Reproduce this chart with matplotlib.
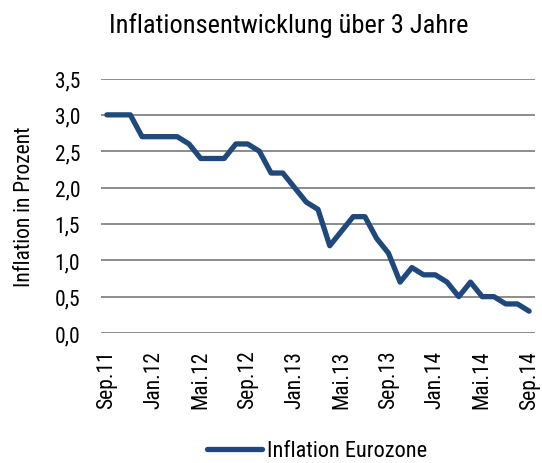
import matplotlib
matplotlib.use('Agg')
import matplotlib.pyplot as plt

plt.rcParams['font.family'] = ['Roboto Condensed', 'Archivo Narrow', 'DejaVu Sans']

# Monthly values Sep.11 .. Sep.14
months = ['Sep.11', 'Okt.11', 'Nov.11', 'Dez.11',
          'Jan.12', 'Feb.12', 'Mrz.12', 'Apr.12', 'Mai.12', 'Jun.12', 'Jul.12', 'Aug.12',
          'Sep.12', 'Okt.12', 'Nov.12', 'Dez.12',
          'Jan.13', 'Feb.13', 'Mrz.13', 'Apr.13', 'Mai.13', 'Jun.13', 'Jul.13', 'Aug.13',
          'Sep.13', 'Okt.13', 'Nov.13', 'Dez.13',
          'Jan.14', 'Feb.14', 'Mrz.14', 'Apr.14', 'Mai.14', 'Jun.14', 'Jul.14', 'Aug.14',
          'Sep.14']
inflation = [3.0, 3.0, 3.0, 2.7,
             2.7, 2.7, 2.7, 2.6, 2.4, 2.4, 2.4, 2.6,
             2.6, 2.5, 2.2, 2.2,
             2.0, 1.8, 1.7, 1.2, 1.4, 1.6, 1.6, 1.3,
             1.1, 0.7, 0.9, 0.8,
             0.8, 0.7, 0.5, 0.7, 0.5, 0.5, 0.4, 0.4,
             0.3]
y_ticks = [0.0, 0.5, 1.0, 1.5, 2.0, 2.5, 3.0, 3.5]

fig = plt.figure(figsize=(5.42, 4.64), dpi=100)
ax = fig.add_axes([101/542, 1 - 334/464, 434/542, 254.5/464])

x = list(range(len(months)))
ax.plot(x, inflation, color='#1F497D', linewidth=3.8, solid_capstyle='round',
        solid_joinstyle='round', label='Inflation Eurozone', zorder=3)

ax.set_xlim(-0.5, len(months) - 0.5)
ax.set_ylim(0, 3.5)
ax.set_yticks(y_ticks)
ax.set_yticklabels([f'{v:.1f}'.replace('.', ',') for v in y_ticks], fontsize=15.5)
tick_pos = x[::4]
ax.set_xticks(tick_pos)
ax.set_xticklabels([months[i] for i in tick_pos], rotation=90, fontsize=15.5)
ax.tick_params(axis='y', length=0, pad=15)
ax.tick_params(axis='x', length=0, pad=12)

ax.yaxis.grid(True, color='#8C8C8C', linewidth=1.4)
ax.set_axisbelow(True)
for s in ax.spines.values():
    s.set_visible(False)

ax.set_ylabel('Inflation in Prozent', fontsize=15.5, labelpad=14)

fig.text(289/542, 1 - 26/464, 'Inflationsentwicklung über 3 Jahre',
         fontsize=19, ha='center', va='center')

fig.legend(loc='center', bbox_to_anchor=(317/542, 1 - 452/464), frameon=False,
           fontsize=16, handlelength=2.5, handletextpad=0.2)

fig.savefig('out.png', dpi=100)
